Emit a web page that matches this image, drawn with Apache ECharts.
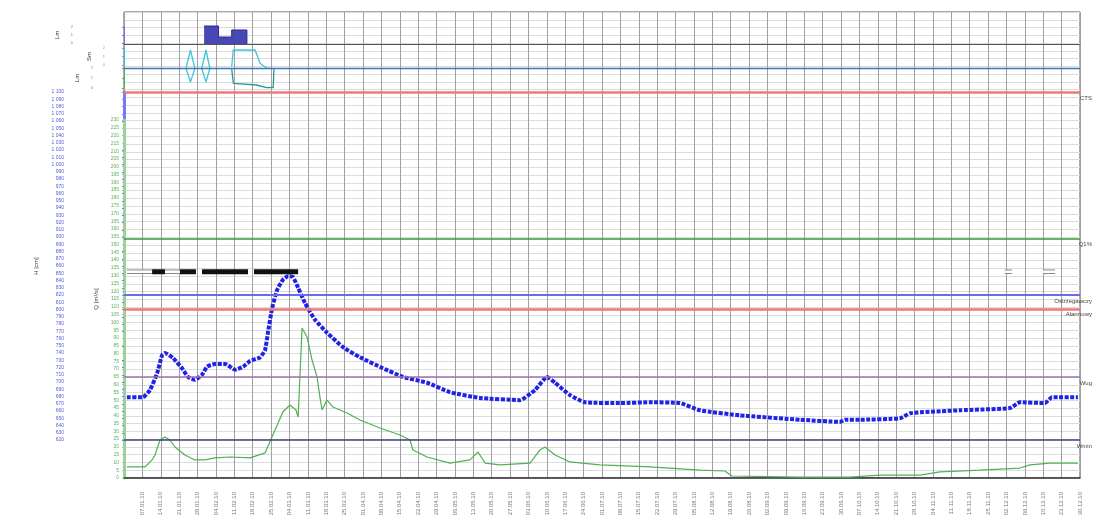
<!DOCTYPE html>
<html><head><meta charset="utf-8">
<script src="https://cdn.jsdelivr.net/npm/echarts@6/dist/echarts.min.js"></script>
<style>html,body{margin:0;padding:0;background:#fff}#c{width:1103px;height:526px}</style>
</head><body><div id="c"></div>
<script>
// ---- data (x = day of year 2010, counted from 31.12.09) ----
const dayMin = 0, dayMax = 364, dayStep = 7;
const baseDateUTC = Date.UTC(2009, 11, 31);

// precipitation (step) [day, value]
const precip = [[30.5, 2.81], [36, 1.09], [41, 2.19], [46.8, 0]];

// cyan panel series [day, value]
const cyanUpper = [[23.6,2.96],[25.3,5.25],[27.0,2.96],[25.3,1.25],[23.6,2.96],null,
  [29.6,2.96],[31.2,5.25],[32.7,2.96],[31.2,1.25],[29.6,2.96],null,
  [41.0,3.16],[41.6,5.25],[49.9,5.25],[51.8,3.59],[54.3,2.96],[56.8,2.96]];
const cyanLower = [[41.0,2.96],[41.6,1.09],[50.5,0.875],[54.3,0.54],[56.8,0.54],[57.1,2.96]];

// water level H [cm]
const levelH = [[1.1,679],[7.2,679],[9.9,689],[12.6,712],[14.5,737],[15.6,740],[18.7,733],[22.1,719],
  [24.4,707],[27.0,703],[29.7,710],[31.6,721],[34.6,725],[38.5,725],[42.3,717],[45.3,721],[48.0,729],
  [51.8,734],[53.7,744],[54.8,768],[56.4,802],[58.3,827],[60.5,841],[62.4,846],[64.3,845],[66.3,830],
  [68.9,809],[72.7,786],[77.3,768],[83.4,748],[89.9,734],[98.6,719],[106.2,707],[115.4,699],[124.1,686],
  [135.5,678],[150.8,675],[156.5,689],[161.1,707],[164.1,699],[169.8,682],[175.5,672],[188.9,671],
  [200.3,672],[211.7,671],[219.3,661],[234.5,654],[257.4,648],[272.6,645],[274.5,648],[280.2,648],
  [295.5,650],[299.3,657],[318.3,661],[337.3,664],[341.1,672],[350.7,671],[353.3,679],[363.2,679]];

// discharge Q
const flowQ = [[1.1,7.1],[8.0,7.1],[10.7,11.6],[11.8,14.8],[13.7,24.4],[15.6,26.3],[17.5,24.4],[19.4,19.9],
  [23.2,14.8],[27.0,11.6],[30.8,11.6],[34.6,12.9],[40.4,13.5],[48.0,12.9],[53.7,16.1],[57.5,30.8],
  [60.5,42.4],[63.2,46.9],[65.5,43.7],[66.3,39.2],[67.8,96.4],[69.7,90.6],[71.6,75.8],[73.5,64.9],
  [74.6,52.0],[75.4,43.7],[77.3,50.1],[79.6,45.6],[84.9,41.8],[89.9,37.3],[97.5,32.1],[105.1,27.6],
  [108.9,24.4],[110.0,18.0],[115.4,13.5],[124.1,9.6],[131.7,11.6],[134.8,16.7],[137.5,9.6],[143.2,8.4],
  [154.6,9.6],[158.4,18.0],[160.3,19.9],[164.1,14.8],[169.8,10.3],[181.2,8.4],[200.3,7.1],[219.3,5.1],
  [228.8,4.5],[231.5,1.3],[257.4,0.6],[276.4,0.6],[287.8,1.9],[303.1,1.9],[310.7,3.9],[325.9,5.1],
  [341.1,6.4],[345.0,8.4],[352.6,9.6],[363.2,9.6]];

// ice phenomena periods [startDay, endDay]
const iceFull = [[10.7,15.6],[21.3,27.4],[29.7,47.2],[49.5,66.3]];
const iceWeak = [[1.1,10.7],[15.6,21.3],[335.4,338.1],[349.9,354.5]];
const iceLevelQ = 132.5;

// thresholds
const levelThresholds = [
  {v:1100, name:'CTS', color:'#f07878', w:2.5},
  {v:820, name:'Ostrzegawczy', color:'#6a6af0', w:2},
  {v:801, name:'Alarmowy', color:'#f07878', w:2.5},
  {v:707, name:'Wug', color:'#a070b0', w:1.5},
  {v:620, name:'Wmin', color:'#404078', w:1.5}
];
const flowThresholds = [{v:154, name:'Q1%', color:'#3a9a3a', w:1.5}];
const cyanThreshold = 3;

// ---- chart ----
function fmtDay(v){
  if (v <= 0) return '';
  const d = new Date(baseDateUTC + v*86400000);
  const p = n => (n<10?'0':'')+n;
  return p(d.getUTCDate())+'.'+p(d.getUTCMonth()+1)+'.'+String(d.getUTCFullYear()).slice(2);
}
function segs(list){ const out=[]; list.forEach(s=>{out.push([s[0],iceLevelQ],[s[1],iceLevelQ],null);}); return out; }
function mk(ths){
  return {silent:true, symbol:'none', data: ths.map(t=>({yAxis:t.v, lineStyle:{color:t.color,width:t.w,type:'solid'},
    label:{show:true, formatter:t.name, position:'insideEndBottom', distance:[-12,3], fontSize:6, color:'#444'}}))};
}
const L = 124, R = 23;
const hx = i => ({gridIndex:i, type:'value', min:dayMin, max:dayMax, interval:dayStep, show:false});
const chart = echarts.init(document.getElementById('c'));
chart.setOption({
  animation:false,
  textStyle:{fontFamily:'Liberation Sans, Arial, sans-serif'},
  grid:[
    {left:L, right:R, top:12, bottom:48, show:true, borderColor:'#555', borderWidth:1},
    {left:L, right:R, top:12, height:32},
    {left:L, right:R, top:44, height:48},
    {left:L, right:R, top:92, bottom:86},
    {left:L, right:R, top:120, bottom:48},
    {left:L, right:R, top:27, height:16},
    {left:L, right:R, top:48, height:17},
    {left:L, right:R, top:68, height:20}
  ],
  xAxis:[
    {gridIndex:0, type:'value', min:dayMin, max:dayMax, interval:dayStep,
      axisLine:{show:true, lineStyle:{color:'#333', width:1.5}}, axisTick:{show:false},
      axisLabel:{rotate:90, fontSize:6, color:'#777', margin:14, formatter:fmtDay, showMinLabel:true, showMaxLabel:true},
      splitLine:{show:true, lineStyle:{color:'#a0a0a0', width:1}}},
    {gridIndex:1, type:'value', min:dayMin, max:dayMax, show:true, axisLine:{show:true, onZero:false, lineStyle:{color:'#555', width:1}},
      axisTick:{show:false}, axisLabel:{show:false}, splitLine:{show:false}},
    hx(2), hx(3), hx(4), hx(5), hx(6), hx(7)
  ],
  yAxis:[
    {gridIndex:0, type:'value', min:0, max:60, interval:1, axisLine:{show:false}, axisTick:{show:false}, axisLabel:{show:false},
      splitLine:{show:true, lineStyle:{color:'#dcdcdc', width:1}}},
    {gridIndex:1, type:'value', min:0, max:5, show:false},
    {gridIndex:2, type:'value', min:0, max:6, show:false},
    {gridIndex:3, type:'value', min:620, max:1100, interval:10, position:'left', offset:57,
      axisLine:{show:true, lineStyle:{color:'#7a7af0', width:3}}, axisTick:{show:true, length:2, lineStyle:{color:'#7a7af0'}},
      axisLabel:{fontSize:5, color:'#5a5ae0', margin:3, formatter:v=> v>=1000 ? '1 '+String(v-1000).padStart(3,'0') : String(v)},
      splitLine:{show:false}, name:'H [cm]', nameLocation:'middle', nameGap:28, nameTextStyle:{fontSize:6, color:'#444'}},
    {gridIndex:4, type:'value', min:0, max:230, interval:5, position:'left', offset:2,
      axisLine:{show:true, lineStyle:{color:'#9ad29a', width:3}}, axisTick:{show:true, length:2, lineStyle:{color:'#9ad29a'}},
      axisLabel:{fontSize:5, color:'#5cb05c', margin:3},
      splitLine:{show:false}, name:'Q [m³/s]', nameLocation:'middle', nameGap:18, nameTextStyle:{fontSize:6, color:'#444'}},
    {gridIndex:5, type:'value', min:0, max:2, interval:1, position:'left', offset:49,
      axisLine:{show:true, lineStyle:{color:'#7070e0', width:1}}, axisTick:{show:true, length:2}, axisLabel:{fontSize:4, color:'#7070e0', margin:2},
      splitLine:{show:false}, name:'Lm', nameLocation:'middle', nameGap:12, nameTextStyle:{fontSize:6, color:'#333'}},
    {gridIndex:6, type:'value', min:0, max:2, interval:1, position:'left', offset:17,
      axisLine:{show:true, lineStyle:{color:'#40b8d8', width:1}}, axisTick:{show:true, length:2}, axisLabel:{fontSize:4, color:'#40b8d8', margin:2},
      splitLine:{show:false}, name:'Sm', nameLocation:'middle', nameGap:10, nameTextStyle:{fontSize:6, color:'#333'}},
    {gridIndex:7, type:'value', min:0, max:2, interval:1, position:'left', offset:29,
      axisLine:{show:true, lineStyle:{color:'#50b060', width:1}}, axisTick:{show:true, length:2}, axisLabel:{fontSize:4, color:'#50b060', margin:2},
      splitLine:{show:false}, name:'Lm', nameLocation:'middle', nameGap:14, nameTextStyle:{fontSize:6, color:'#333'}}
  ],
  series:[
    {type:'line', xAxisIndex:1, yAxisIndex:1, data:precip, step:'end', symbol:'none',
      lineStyle:{color:'#2c2c90', width:1}, areaStyle:{color:'#4848b4', opacity:1}},
    {type:'line', xAxisIndex:2, yAxisIndex:2, data:cyanUpper, symbol:'none', connectNulls:false,
      lineStyle:{color:'#40c4d8', width:1.3}, markLine:{silent:true, symbol:'none', data:[{yAxis:cyanThreshold, lineStyle:{color:'#3a78b8', width:1.3, type:'solid'}, label:{show:false}}]}},
    {type:'line', xAxisIndex:2, yAxisIndex:2, data:cyanLower, symbol:'none', lineStyle:{color:'#2a9a90', width:1.3}},
    {type:'line', xAxisIndex:3, yAxisIndex:3, data:[], markLine:mk(levelThresholds)},
    {type:'line', xAxisIndex:4, yAxisIndex:4, data:flowQ, symbol:'none', lineStyle:{color:'#52b052', width:1.2},
      markLine:mk(flowThresholds), z:3},
    {type:'line', xAxisIndex:3, yAxisIndex:3, data:levelH, symbol:'none', smooth:0.15,
      lineStyle:{color:'#2222e6', width:4, type:[4,1.5], cap:'butt'}, z:4},
    {type:'line', xAxisIndex:4, yAxisIndex:4, data:segs(iceWeak), symbol:'none', lineStyle:{color:'#888', width:4.5}, z:5},
    {type:'line', xAxisIndex:4, yAxisIndex:4, data:segs(iceWeak), symbol:'none', lineStyle:{color:'#fff', width:2.5}, z:6},
    {type:'line', xAxisIndex:4, yAxisIndex:4, data:segs(iceFull), symbol:'none', lineStyle:{color:'#111', width:5, cap:'butt'}, z:7}
  ]
});
</script></body></html>
